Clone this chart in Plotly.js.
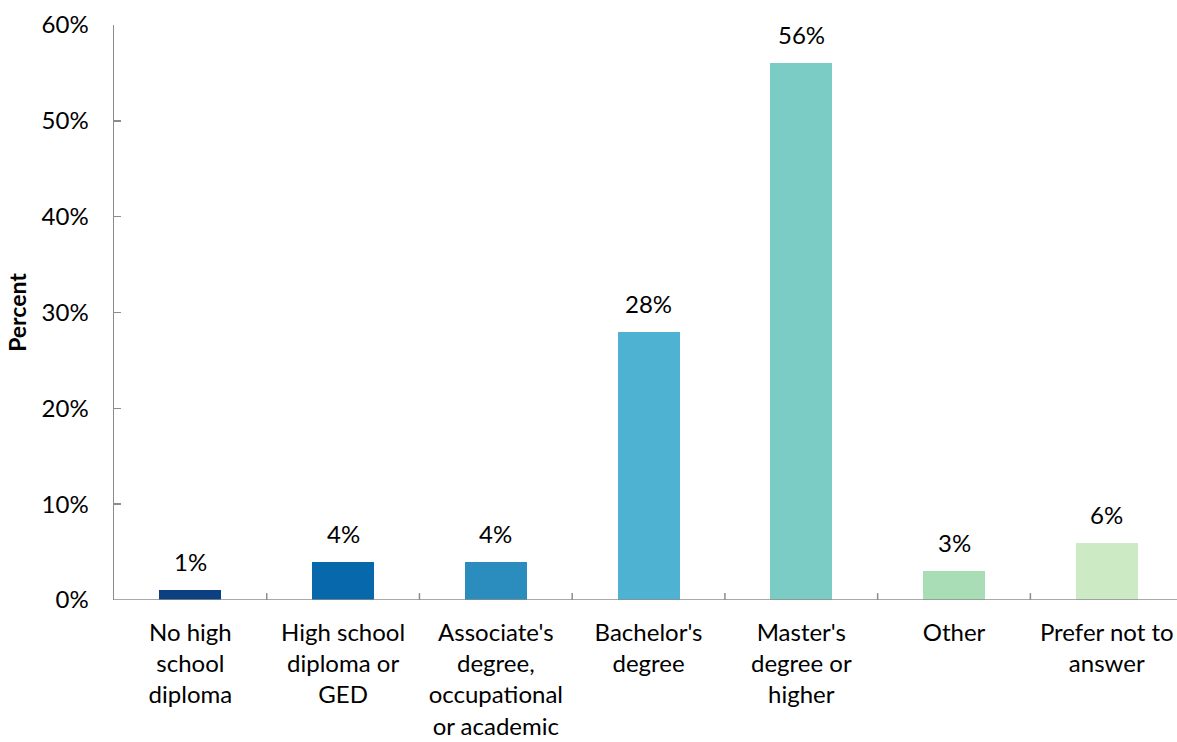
<!DOCTYPE html>
<html>
<head>
<meta charset="utf-8">
<script src="https://cdn.plot.ly/plotly-3.0.1.min.js"></script>
<style>
  html, body { margin: 0; padding: 0; background: #ffffff; }
  #chart { width: 1177px; height: 742px; }
</style>
</head>
<body>
<div id="chart"></div>
<script>
// Highest level of education completed (percent of respondents)
const categories = [
  "No high<br>school<br>diploma",
  "High school<br>diploma or<br>GED",
  "Associate's<br>degree,<br>occupational<br>or academic",
  "Bachelor's<br>degree",
  "Master's<br>degree or<br>higher",
  "Other",
  "Prefer not to<br>answer"
];
const percents = [1, 4, 4, 28, 56, 3, 6];
const barColors = ["#0b4083", "#0868ac", "#2b8cbe", "#4eb3d3", "#7bccc4", "#a8ddb5", "#ccebc5"];
const yTicks = [0, 10, 20, 30, 40, 50, 60];

const FONT = "Lato, 'Open Sans', sans-serif";
const AXIS_GREY = "#8c8c8c";
const positions = categories.map((_, i) => i);

const bars = {
  type: "bar",
  x: positions,
  y: percents,
  width: 0.406,
  marker: { color: barColors, line: { width: 0 } },
  hoverinfo: "skip",
  showlegend: false
};

// Value labels sitting above each bar
const valueLabels = percents.map((v, i) => ({
  x: positions[i],
  y: v,
  xref: "x",
  yref: "y",
  text: v + "%",
  showarrow: false,
  yanchor: "bottom",
  yshift: 12,
  font: { family: FONT, size: 24, color: "#000000" }
}));

// Baseline plus short upward ticks between categories
const baseline = {
  type: "line", xref: "paper", yref: "y",
  x0: 0, x1: 1, y0: 0, y1: 0,
  line: { color: AXIS_GREY, width: 1.5 }
};
const dividers = positions.slice(0, -1).map(i => ({
  type: "line", xref: "x", yref: "paper",
  x0: i + 0.5, x1: i + 0.5, y0: 0, y1: 0.012,
  line: { color: AXIS_GREY, width: 1.5 }
}));

const layout = {
  width: 1177,
  height: 742,
  margin: { l: 114, r: 0, t: 25, b: 142 },
  paper_bgcolor: "#ffffff",
  plot_bgcolor: "#ffffff",
  font: { family: FONT, size: 24, color: "#000000" },
  bargap: 0,
  xaxis: {
    range: [-0.5, 6.46],
    tickmode: "array",
    tickvals: positions,
    ticktext: categories,
    ticks: "",
    ticklabelstandoff: 16,
    showgrid: false,
    zeroline: false,
    showline: false,
    tickfont: { family: FONT, size: 24, color: "#000000" },
    fixedrange: true
  },
  yaxis: {
    range: [0, 60],
    tickmode: "array",
    tickvals: yTicks,
    ticktext: yTicks.map(t => t + "%"),
    ticks: "inside",
    ticklen: 7,
    tickwidth: 1.5,
    tickcolor: AXIS_GREY,
    ticklabelstandoff: 19,
    showline: true,
    linecolor: AXIS_GREY,
    linewidth: 1.5,
    showgrid: false,
    zeroline: false,
    tickfont: { family: FONT, size: 24, color: "#000000" },
    title: {
      text: "<b>Percent</b>",
      font: { family: FONT, size: 23, color: "#000000" },
      standoff: 8
    },
    fixedrange: true
  },
  annotations: valueLabels,
  shapes: [baseline].concat(dividers)
};

Plotly.newPlot("chart", [bars], layout, { displayModeBar: false, staticPlot: true });
</script>
</body>
</html>
